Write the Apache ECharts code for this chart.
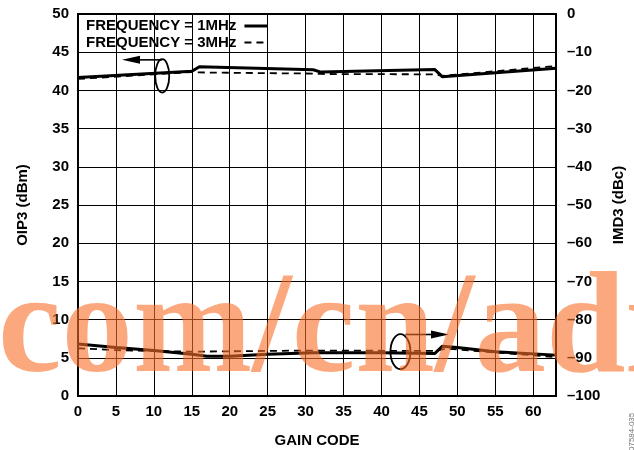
<!DOCTYPE html>
<html><head><meta charset="utf-8">
<script src="https://cdn.jsdelivr.net/npm/echarts@6/dist/echarts.min.js"></script>
<style>html,body{margin:0;padding:0;background:#fff}#c{width:634px;height:450px}</style>
</head><body><div id="c"></div>
<script>
// ---- data ----
const seriesNames = ['FREQUENCY = 1MHz', 'FREQUENCY = 3MHz'];
const oip3Codes1 = [0, 15, 16, 31, 32, 47, 48, 63];
const oip3Vals1  = [41.7, 42.5, 43.1, 42.7, 42.4, 42.75, 41.8, 42.9];
const oip3Codes3 = [0, 15, 16, 31, 32, 47, 48, 63];
const oip3Vals3  = [41.5, 42.4, 42.35, 42.2, 42.15, 42.1, 41.9, 43.2];
const imd3Codes1 = [0, 5, 10, 15, 17, 20, 25, 31, 40, 47, 48, 50, 55, 63];
const imd3Vals1  = [-86.4, -87.3, -88.1, -89.1, -89.6, -89.6, -89.1, -88.7, -88.7, -88.9, -87.0, -87.3, -88.4, -89.3];
const imd3Codes3 = [0, 5, 15, 30, 47, 48.5, 55, 63];
const imd3Vals3  = [-87.5, -88.0, -88.4, -88.1, -88.2, -87.6, -88.6, -89.8];
const xAxisName = 'GAIN CODE';
const yLeftName = 'OIP3 (dBm)';
const yRightName = 'IMD3 (dBc)';
const watermarkText = 'com/cn/adi';
const figureId = '07584-035';
// annotation anchors in data units
const annotTop = {cx: 11.1, cy: 41.9, tipX: 5.8, lineY: 44.0};
const annotBot = {cx: 42.5, cy: -88.4, tipX: 48.9, lineY: -83.9};

const pairs = (xs, ys) => xs.map((x, i) => [x, ys[i]]);
const FONT = 'Liberation Sans';
const lbl = {fontFamily: FONT, fontWeight: 'bold', fontSize: 15, color: '#000'};

const chart = echarts.init(document.getElementById('c'), null, {renderer: 'canvas'});
chart.setOption({
  animation: false,
  backgroundColor: '#fff',
  color: ['#000', '#000'],
  grid: {left: 78, right: 78, top: 14, bottom: 54, show: true, borderColor: '#000', borderWidth: 2,
         backgroundColor: 'transparent', containLabel: false, outerBoundsMode: 'none'},
  legend: {
    data: [
      {name: seriesNames[0], lineStyle: {width: 3, color: '#000'}},
      {name: seriesNames[1], lineStyle: {width: 2, color: '#000', type: [7, 5]}}
    ],
    left: 86, top: 18.5, orient: 'vertical', align: 'right', padding: 0,
    itemWidth: 23, itemHeight: 14, itemGap: 1.5, selectedMode: false,
    itemStyle: {opacity: 0},
    textStyle: {fontFamily: FONT, fontWeight: 'bold', fontSize: 15, color: '#000', padding: [0, 3, 0, 0]}
  },
  xAxis: {
    type: 'value', min: 0, max: 63, interval: 5,
    name: xAxisName, nameLocation: 'middle', nameGap: 37, nameTextStyle: lbl,
    axisLine: {show: true, lineStyle: {color: '#000', width: 2}},
    axisTick: {show: false},
    axisLabel: Object.assign({margin: 8, formatter: v => (v % 5 === 0 ? String(v) : '')}, lbl),
    splitLine: {show: true, lineStyle: {color: '#000', width: 1}}
  },
  yAxis: [{
    type: 'value', min: 0, max: 50, interval: 5, position: 'left',
    name: yLeftName, nameLocation: 'middle', nameGap: 48, nameRotate: 90, nameTextStyle: lbl,
    axisLine: {show: true, lineStyle: {color: '#000', width: 2}},
    axisTick: {show: false},
    axisLabel: Object.assign({margin: 9}, lbl),
    splitLine: {show: true, lineStyle: {color: '#000', width: 1}}
  }, {
    type: 'value', min: -100, max: 0, interval: 10, position: 'right',
    name: yRightName, nameLocation: 'middle', nameGap: 46, nameRotate: 90, nameTextStyle: lbl,
    axisLine: {show: true, lineStyle: {color: '#000', width: 2}},
    axisTick: {show: false},
    axisLabel: Object.assign({margin: 11, formatter: v => (v < 0 ? '\u2013' + Math.abs(v) : String(v))}, lbl),
    splitLine: {show: false}
  }],
  series: [
    {name: seriesNames[0], type: 'line', yAxisIndex: 0, data: pairs(oip3Codes1, oip3Vals1), symbol: 'none', z: 5,
     itemStyle: {color: '#000'}, lineStyle: {color: '#000', width: 3}},
    {name: seriesNames[1], type: 'line', yAxisIndex: 0, data: pairs(oip3Codes3, oip3Vals3), symbol: 'none', z: 4,
     itemStyle: {color: '#000'}, lineStyle: {color: '#000', width: 1.8, type: [7, 5]}},
    {name: seriesNames[0], type: 'line', yAxisIndex: 1, data: pairs(imd3Codes1, imd3Vals1), symbol: 'none', z: 5,
     itemStyle: {color: '#000'}, lineStyle: {color: '#000', width: 3}},
    {name: seriesNames[1], type: 'line', yAxisIndex: 1, data: pairs(imd3Codes3, imd3Vals3), symbol: 'none', z: 4,
     itemStyle: {color: '#000'}, lineStyle: {color: '#000', width: 1.8, type: [7, 5]}}
  ]
});

function annot(a, yi, rx, ry, startDx) {
  const c = chart.convertToPixel({xAxisIndex: 0, yAxisIndex: yi}, [a.cx, a.cy]);
  const t = chart.convertToPixel({xAxisIndex: 0, yAxisIndex: yi}, [a.tipX, a.lineY]);
  const dir = t[0] < c[0] ? 1 : -1;
  const baseX = t[0] + dir * 18;
  return [
    {type: 'ellipse', z: 50, shape: {cx: c[0], cy: c[1], rx: rx, ry: ry}, style: {fill: 'none', stroke: '#000', lineWidth: 1.8}},
    {type: 'polyline', z: 50, shape: {points: [[c[0] + startDx, t[1]], [baseX, t[1]]]}, style: {stroke: '#000', lineWidth: 1.6}},
    {type: 'polygon', z: 50, shape: {points: [[t[0], t[1]], [baseX, t[1] - 4], [baseX, t[1] + 4]]}, style: {fill: '#000'}}
  ];
}

chart.setOption({
  graphic: [].concat(
    annot(annotTop, 0, 7, 16.7, 0),
    annot(annotBot, 1, 10, 17.5, 5),
    [
      {type: 'text', z: 100, x: -2, y: 406, silent: true,
       style: {text: watermarkText, font: 'bold 143px "Liberation Serif"', fill: 'rgba(250,110,40,0.6)',
               textAlign: 'left', textVerticalAlign: 'bottom'}},
      {type: 'text', z: 100, x: 632, y: 451, rotation: Math.PI / 2,
       style: {text: figureId, font: '8px "Liberation Sans"', fill: '#777', textAlign: 'left', textVerticalAlign: 'middle'}}
    ]
  )
});
</script>
</body></html>
